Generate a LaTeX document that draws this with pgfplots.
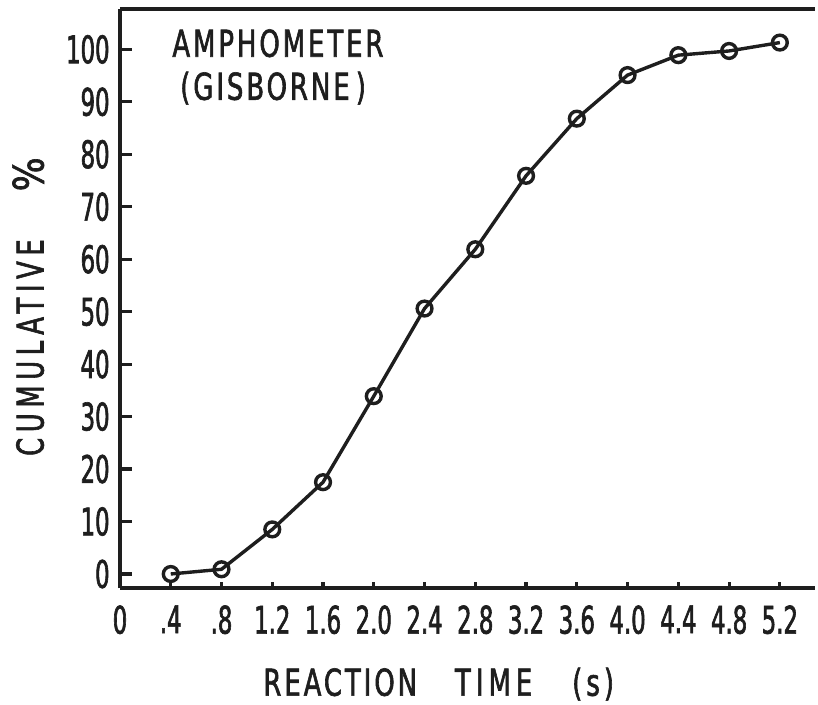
\documentclass[border=0pt]{standalone}
\usepackage{fontspec}
\setmainfont{DejaVu Sans}
\newfontfamily\digitfont{DejaVu Sans}[FakeStretch=0.6,FakeBold=1.6]
\newfontfamily\labfont{DejaVu Sans}[FakeStretch=0.7,LetterSpace=8,FakeBold=1.6]
\newfontfamily\ylabfont{DejaVu Sans}[FakeStretch=0.7,LetterSpace=15,FakeBold=1.6]
\newfontfamily\pctfont{DejaVu Sans}[FakeStretch=0.85,FakeBold=1.6]
\usepackage{pgfplots}
\pgfplotsset{compat=1.18}
\definecolor{ink}{HTML}{1E1E1E}
\begin{document}
\begin{tikzpicture}
\begin{axis}[
  width=347.5bp, height=289.5bp, scale only axis,
  xmin=0, xmax=5.477, ymin=-2.67, ymax=107.7,
  axis x line*=bottom, axis y line*=left,
  axis line style={line width=1.9bp, ink},
  tick align=inside,
  xtick={0,0.4,0.8,1.2,1.6,2.0,2.4,2.8,3.2,3.6,4.0,4.4,4.8,5.2},
  xticklabels={0,.4,.8,1.2,1.6,2.0,2.4,2.8,3.2,3.6,4.0,4.4,4.8,5.2},
  ytick={0,10,...,100},
  yticklabels={0,10,20,30,40,50,60,70,80,90,100},
  /pgf/number format/assume math mode=true,
  xtick style={line width=1.6bp, ink, /pgfplots/major tick length=3bp},
  ytick style={line width=1.6bp, ink, /pgfplots/major tick length=6bp},
  ticklabel style={font=\digitfont\fontsize{19bp}{22bp}\selectfont, text=ink, inner sep=0pt},
  yticklabel style={xshift=-5bp},
  xticklabel style={yshift=-8.5bp, anchor=north},
  xlabel={\labfont\fontsize{18.5bp}{22bp}\selectfont REACTION\hspace{19bp}T\hspace{2.5bp}I\hspace{2.5bp}M\hspace{2.5bp}E\hspace{20bp}(\hspace{2bp}s\hspace{2bp})},
  xlabel style={at={(axis description cs:0.2058,-0.186)}, anchor=base west, text=ink, inner sep=0pt},
  ylabel={{\ylabfont\fontsize{18.5bp}{22bp}\selectfont CUMULATIVE}\hspace{24bp}{\pctfont\fontsize{21bp}{22bp}\selectfont\%}},
  ylabel style={at={(axis description cs:-0.132,0.486)}, anchor=center, rotate=0, text=ink, inner sep=0pt},
  clip=false,
]
\addplot[ink, line width=1.7bp, mark=o, mark size=3.7bp,
  mark options={fill=white, line width=1.7bp, solid}]
  coordinates {
  (0.4,0.0) (0.8,0.9) (1.2,8.5) (1.6,17.5) (2.0,33.9) (2.4,50.6)
  (2.8,61.9) (3.2,75.9) (3.6,86.8) (4.0,95.1) (4.4,98.9) (4.8,99.7) (5.2,101.3)
  };
\draw[ink, line width=1.9bp] (rel axis cs:0,1) -- (rel axis cs:1,1);
\node[anchor=base west, inner sep=0pt, text=ink] at (axis cs:0.41,98.6)
  {\labfont\fontsize{18.5bp}{22bp}\selectfont AMPHOMETER};
\node[anchor=base west, inner sep=0pt, text=ink] at (axis cs:0.472,90.4)
  {\labfont\fontsize{18.5bp}{22bp}\selectfont (GISBORNE\,)};
\coordinate (bl) at (rel axis cs:0,0);
\coordinate (tr) at (rel axis cs:1,1);
\end{axis}
\pgfresetboundingbox
\path ([xshift=-60bp,yshift=-58.5bp]bl) rectangle ([xshift=1.5bp,yshift=4.5bp]tr);
\end{tikzpicture}
\end{document}
